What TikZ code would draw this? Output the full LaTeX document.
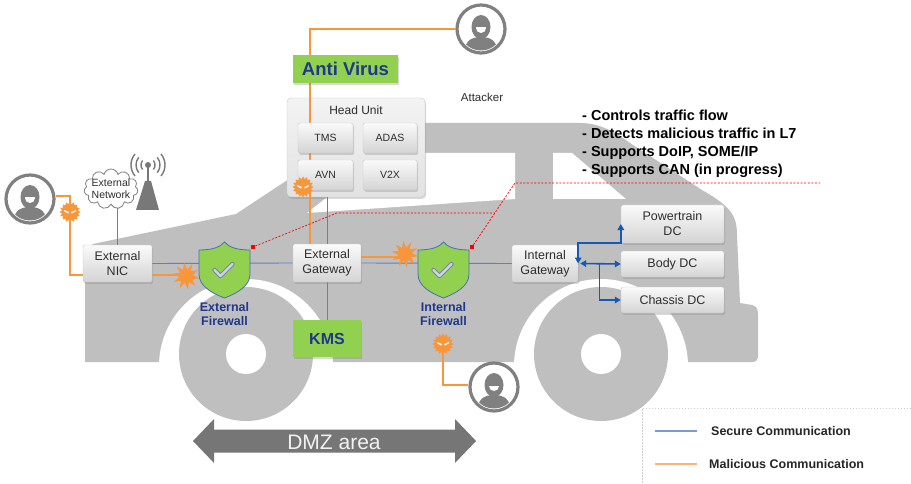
\documentclass[tikz,border=0pt]{standalone}
\usepackage{fontspec}
\setmainfont{Liberation Sans}
\usetikzlibrary{positioning, arrows.meta, shapes.geometric, shapes.symbols, shadows, calc}

\definecolor{CarGray}{RGB}{191,191,191}
\definecolor{BoxTop}{RGB}{250,250,250}
\definecolor{BoxBottom}{RGB}{212,212,212}
\definecolor{BoxEdge}{RGB}{200,200,200}
\definecolor{BoxText}{RGB}{45,45,45}
\definecolor{HuTop}{RGB}{243,243,243}
\definecolor{HuBottom}{RGB}{226,226,226}
\definecolor{SafeGreen}{RGB}{146,208,80}
\definecolor{NavyText}{RGB}{31,56,140}
\definecolor{SecureBlue}{RGB}{90,130,200}
\definecolor{ShieldEdge}{RGB}{70,110,190}
\definecolor{CheckFill}{RGB}{205,214,228}
\definecolor{CheckEdge}{RGB}{120,135,160}
\definecolor{CtrlBlue}{RGB}{20,90,180}
\definecolor{AttackOrange}{RGB}{248,150,60}
\definecolor{IconGray}{RGB}{128,128,128}
\definecolor{TowerGray}{RGB}{120,120,120}
\definecolor{DmzGray}{RGB}{118,118,118}
\definecolor{LegendEdge}{RGB}{205,205,205}

\pgfdeclarelayer{carbody}
\pgfdeclarelayer{wires}
\pgfsetlayers{carbody,wires,main}

\tikzset{
  softshadow/.style={drop shadow={shadow xshift=1.2pt, shadow yshift=-1.8pt, opacity=0.3}},
  ecu/.style={rectangle, rounded corners=1.5pt, draw=BoxEdge, line width=0.4pt,
    top color=BoxTop, bottom color=BoxBottom, text=BoxText, align=center,
    inner sep=1pt, font=\fontsize{12.5}{15}\selectfont, softshadow},
  subecu/.style={ecu, font=\fontsize{10.5}{12}\selectfont},
  hubox/.style={rectangle, rounded corners=4pt, draw=BoxEdge, line width=0.4pt,
    top color=HuTop, bottom color=HuBottom, softshadow},
  safebox/.style={rectangle, fill=SafeGreen, text=NavyText, inner sep=1pt, softshadow},
  fwnode/.style={rectangle, minimum width=51, minimum height=56, inner sep=0},
  fwlabel/.style={font=\bfseries\fontsize{12.5}{14}\selectfont, text=NavyText, align=center, inner sep=1pt},
  attackring/.style={circle, draw=IconGray, line width=3.2pt, fill=white, minimum size=48, inner sep=0},
  virusbody/.style={star, star points=16, star point ratio=1.3, fill=AttackOrange, minimum size=21, inner sep=0},
  burst/.style={star, star points=10, star point ratio=2, fill=AttackOrange, minimum size=27, inner sep=0, rotate=8},
  reddot/.style={rectangle, fill=red, minimum size=4, inner sep=0},
  secure/.style={draw=SecureBlue, line width=0.9pt},
  attack/.style={draw=AttackOrange, line width=2pt},
  ctrl/.style={draw=CtrlBlue, line width=1.6pt},
  callout/.style={draw=red, line width=0.7pt, dash pattern=on 2pt off 1.6pt},
  legendtext/.style={font=\bfseries\fontsize{12.5}{14}\selectfont, text=black!85, inner sep=0}
}

% hooded attacker inside a grey ring
\newcommand{\attacker}[2]{%
  \node[attackring] (#1) at (#2) {};
  \begin{scope}[shift={(#1.center)}]
    \clip (0,0) circle (21.5);
    \fill[IconGray] (0,-2) ellipse (9.5 and 12);
    \begin{scope}
      \clip (-7,-1) rectangle (7,6);
      \fill[white] (0,-1) circle (5);
    \end{scope}
    \fill[IconGray] (-17,24) .. controls (-16,12) and (-10,8) .. (0,8) .. controls (10,8) and (16,12) .. (17,24) -- cycle;
  \end{scope}}

% orange virus with angry eyes
\newcommand{\virus}[2]{%
  \node[virusbody] (#1) at (#2) {};
  \begin{scope}[shift={(#1.center)}]
    \fill[white] (-6,-2) -- (-1.2,0) -- (-1.8,1.6) -- (-5.5,-0.5) -- cycle;
    \fill[white] (6,-2) -- (1.2,0) -- (1.8,1.6) -- (5.5,-0.5) -- cycle;
  \end{scope}}

% green shield with a check mark
\newcommand{\shield}[1]{%
  \begin{scope}[shift={(#1.center)}]
    \filldraw[fill=SafeGreen, draw=ShieldEdge, line width=0.8pt]
      (-25.5,-20) .. controls (-12,-20) and (-4,-23) .. (0,-28)
      .. controls (4,-23) and (12,-20) .. (25.5,-20) -- (25.5,4)
      .. controls (25.5,16) and (13,23) .. (0,28)
      .. controls (-13,23) and (-25.5,16) .. (-25.5,4) -- cycle;
    \draw[CheckEdge, line width=4.5pt, line cap=round, line join=round] (-10,0) -- (-4,6) -- (8,-6);
    \draw[CheckFill, line width=2.4pt, line cap=round, line join=round] (-10,0) -- (-4,6) -- (8,-6);
  \end{scope}}

\begin{document}
\begin{tikzpicture}[x=1pt, y=-1pt, >={Triangle[length=6pt, width=6.5pt]}]
\useasboundingbox (0,0) rectangle (911,484);

% car silhouette
\begin{pgfonlayer}{carbody}
  \fill[white] (0,0) rectangle (911,484);
  \fill[CarGray] (85,362) -- (85,250) -- (93,244) -- (236,214) -- (292,177) -- (405,123)
    -- (580,123) .. controls (600,123) and (615,132) .. (630,143) -- (702,190)
    .. controls (730,206) and (737,215) .. (737,235) -- (740,303) -- (752,305)
    .. controls (757,306) and (758,310) .. (758,315) -- (758,356)
    .. controls (758,360) and (756,362) .. (752,362) -- cycle;
  \fill[white] (307,213) -- (383,153) -- (515,153) -- (515,199) -- cycle;
  \fill[white] (553,153) -- (572,153) -- (626,199) -- (553,199) -- cycle;
  \foreach \cx in {246,601} {
    \fill[white] (\cx,366) circle (87);
    \fill[CarGray] (\cx,354) circle (67);
    \fill[white] (\cx,354) circle (20);
  }
  \node[hubox, minimum width=138, minimum height=99] (hu) at (356,147.5) {};
\end{pgfonlayer}

% attackers and text
\attacker{atktop}{481,29}
\attacker{atkleft}{30,199}
\attacker{atkbottom}{494,387}
\node[font=\fontsize{11.5}{13}\selectfont, text=BoxText] (atklabel) at (482,97) {Attacker};

% head unit
\node[safebox, minimum width=105, minimum height=28, font=\bfseries\fontsize{18.5}{20}\selectfont] (av) at (345.5,69) {Anti Virus};
\node[font=\fontsize{12}{14}\selectfont, text=BoxText] (hutitle) at (356,110) {Head Unit};
\node[subecu, minimum width=55, minimum height=30] (tms) at (325.5,138) {TMS};
\node[subecu, minimum width=54, minimum height=30] (adas) at (390,138) {ADAS};
\node[subecu, minimum width=55, minimum height=30] (avn) at (325.5,175) {AVN};
\node[subecu, minimum width=54, minimum height=30] (vtwox) at (390,175) {V2X};

% external network with antenna tower
\fill[TowerGray] (136,210) -- (145,181) -- (151,181) -- (159,210) -- cycle;
\draw[TowerGray, line width=2.5pt] (148,181) -- (148,167);
\fill[TowerGray] (148,165) circle (3);
\foreach \r in {7,12,17} {
  \draw[TowerGray, line width=1.4pt] (148,165) ++(-40:\r pt) arc[start angle=-40, end angle=40, radius=\r pt];
  \draw[TowerGray, line width=1.4pt] (148,165) ++(140:\r pt) arc[start angle=140, end angle=220, radius=\r pt];
}
\node[cloud, cloud puffs=11, aspect=1.3, draw=IconGray, fill=white, line width=0.8pt,
  minimum width=54, minimum height=40, inner sep=0,
  label={[align=center, font=\fontsize{10.5}{12}\selectfont, text=BoxText]center:External\\Network}] (extnet) at (111,189) {};

% network units
\node[ecu, minimum width=69, minimum height=37] (nic) at (117.5,263.5) {External\\NIC};
\node[ecu, minimum width=68, minimum height=38] (extgw) at (327,263) {External\\Gateway};
\node[ecu, minimum width=66, minimum height=37] (intgw) at (545,263.5) {Internal\\Gateway};
\node[safebox, minimum width=68, minimum height=37, font=\bfseries\fontsize{16}{18}\selectfont] (kms) at (327,338.5) {KMS};
\node[ecu, minimum width=103, minimum height=38] (ptdc) at (672.5,224) {Powertrain\\DC};
\node[ecu, minimum width=103, minimum height=26] (bodydc) at (672.5,264) {Body DC};
\node[ecu, minimum width=103, minimum height=26] (chassisdc) at (672.5,300) {Chassis DC};

% firewalls
\node[fwnode, label={[fwlabel, yshift=-3pt]below:External\\Firewall}] (extfw) at (224.5,270) {};
\node[fwnode, label={[fwlabel, yshift=-3pt]below:Internal\\Firewall}] (intfw) at (443.5,270) {};
\shield{extfw}
\shield{intfw}

% attack marks
\virus{virhu}{303,187}
\virus{virleft}{70,212}
\virus{virfw}{443,344}
\node[burst] (burstext) at (186,276) {};
\node[burst] (burstint) at (405,254) {};

% links
\begin{pgfonlayer}{wires}
  \draw[secure] (nic.north |- extnet.south) -- (nic.north);
  \draw[secure] (nic.east) -- (extgw.west) (extgw.east) -- (intgw.west);
  \draw[secure] (hu.south -| extgw.north) -- (kms.north);
  \draw[attack] (atktop.west) -| ([xshift=-17pt]extgw.north);
  \draw[attack] ([yshift=3pt]atkleft.east) -| (virleft.center) |- ([yshift=-11pt]nic.west);
  \draw[attack] ([yshift=-11pt]nic.east) -- ([yshift=-11pt]nic.east -| burstext.center);
  \draw[attack] ([yshift=6pt]extgw.east) -- ([yshift=6pt]extgw.east -| burstint.center);
  \draw[attack] ([yshift=2pt]atkbottom.west) -| (virfw.center);
\end{pgfonlayer}

% domain controller links
\draw[ctrl, <->] (intgw.east) |- (ptdc.south west) -- (ptdc.west);
\draw[ctrl, <->] ([xshift=2pt]intgw.east) -- (bodydc.west);
\draw[ctrl, ->] ($(intgw.east)!0.5!(bodydc.west)$) |- (chassisdc.west);

% firewall notes
\node[anchor=north west, align=left, inner sep=0, font=\bfseries\fontsize{14.5}{18}\selectfont] (notes) at (582,110)
  {- Controls traffic flow\\- Detects malicious traffic in L7\\- Supports DoIP, SOME/IP\\- Supports CAN (in progress)};
\node[reddot] (dotext) at (253,247) {};
\node[reddot] (dotint) at (472,247) {};
\coordinate (kneeext) at (337,213);
\coordinate (kneeint) at (515,183);
\coordinate (noteend) at (820,183);
\draw[callout] (dotext) -- (kneeext) -- ($(dotint)!0.53!(kneeint)$);
\draw[callout] (dotint) -- (kneeint) -- (noteend);

% DMZ
\fill[DmzGray] (193,441) -- (214,419) -- (214,429.5) -- (455,429.5) -- (455,419) -- (476,441)
  -- (455,463) -- (455,452.5) -- (214,452.5) -- (214,463) -- cycle;
\node[text=white!95!black, font=\fontsize{21}{21}\selectfont, inner sep=0] (dmz) at (334,442) {DMZ area};

% legend
\draw[LegendEdge, line width=0.8pt, dash pattern=on 1.5pt off 1.5pt] (911,408) -- (642,408) -- (642,484);
\node[legendtext, anchor=west] (lgsecure) at (711,431) {Secure Communication};
\node[legendtext, anchor=west] (lgattack) at (709,464) {Malicious Communication};
\draw[secure, line width=1.5pt, draw=SecureBlue!80] ([xshift=-14pt]lgsecure.west) -- ++(-42,0);
\draw[attack, line width=1.5pt, draw=AttackOrange!70] ([xshift=-12pt]lgattack.west) -- ++(-42,0);
\end{tikzpicture}
\end{document}
